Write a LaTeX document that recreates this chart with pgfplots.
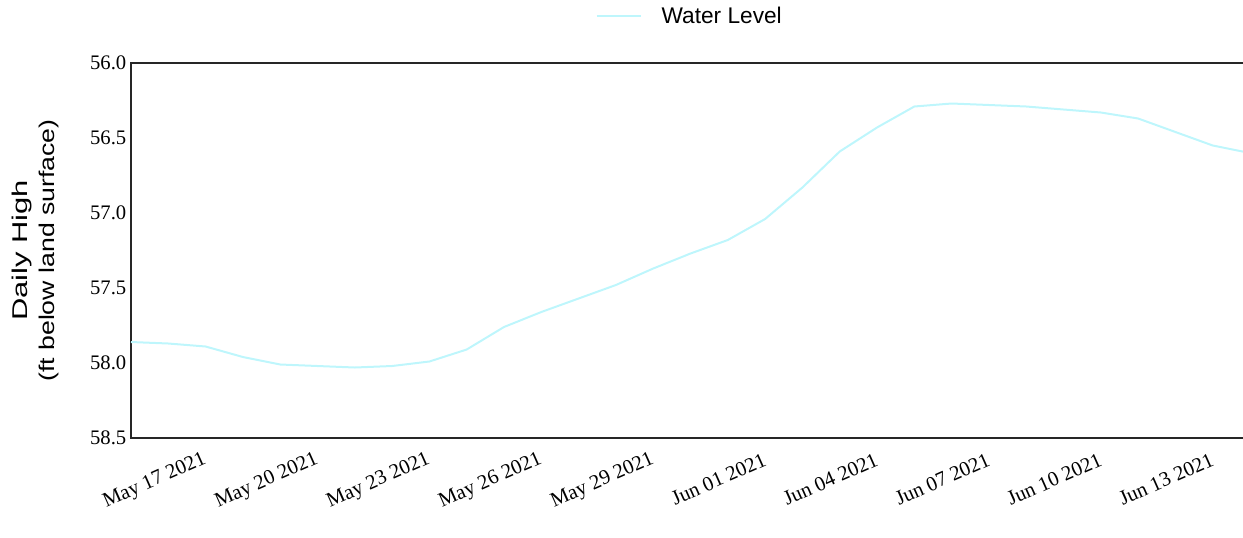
\documentclass[border=0pt]{standalone}
\usepackage{pgfplots}
\pgfplotsset{compat=1.18}
\usepackage{fontspec}
\setmainfont{Liberation Serif}
\newfontfamily\sansf{Liberation Sans}
\definecolor{wl}{RGB}{190,246,252}
\begin{document}
\begin{tikzpicture}[x=1pt,y=1pt]
\begin{axis}[
  scale only axis,
  width=843.75pt, height=281.25pt,
  xmin=0, xmax=30.16,
  ymin=56, ymax=58.5,
  y dir=reverse,
  axis line style={black!85, line width=1.3pt},
  major tick length=0pt,
  xtick={2,5,8,11,14,17,20,23,26,29},
  xticklabels={May 17 2021,May 20 2021,May 23 2021,May 26 2021,May 29 2021,Jun 01 2021,Jun 04 2021,Jun 07 2021,Jun 10 2021,Jun 13 2021},
  xticklabel style={rotate=24, anchor=east, font=\fontsize{15.5}{18}\selectfont, yshift=-14pt, xshift=-3pt},
  ytick={56,56.5,57,57.5,58,58.5},
  yticklabel style={font=\fontsize{15.5}{18}\selectfont, /pgf/number format/.cd, fixed, fixed zerofill, precision=1},
  /pgf/number format/assume math mode=true,
  ylabel={\scalebox{1.45}[1]{Daily High}\\\scalebox{1.25}[1]{(ft below land surface)}},
  ylabel style={at={(axis description cs:-0.085,0.5)}, anchor=center, align=center, font=\sansf\fontsize{16}{20}\selectfont},
  legend style={at={(axis description cs:0.497,1.0)}, anchor=south, yshift=24pt, draw=none, fill=none, font=\sansf\fontsize{17}{20}\selectfont},
  legend cell align=left,
  legend image code/.code={\draw[#1, line width=1.4pt] (0pt,0pt) -- (33pt,0pt);},
  clip=true,
]
\addplot[wl, line width=1.5pt, mark=none] coordinates {
(0,57.86) (1,57.87) (2,57.89) (3,57.96) (4,58.01) (5,58.02) (6,58.03) (7,58.02) (8,57.99) (9,57.91)
(10,57.76) (11,57.66) (12,57.57) (13,57.48) (14,57.37) (15,57.27) (16,57.18) (17,57.04) (18,56.83) (19,56.59)
(20,56.43) (21,56.29) (22,56.27) (23,56.28) (24,56.29) (25,56.31) (26,56.33) (27,56.37) (28,56.46) (29,56.55) (30,56.60)
};
\addlegendentry{\hspace{13pt}Water Level}
\end{axis}
\pgfresetboundingbox
\useasboundingbox (-98.25pt,-74.25pt) rectangle (834pt,328.5pt);
\end{tikzpicture}
\end{document}
